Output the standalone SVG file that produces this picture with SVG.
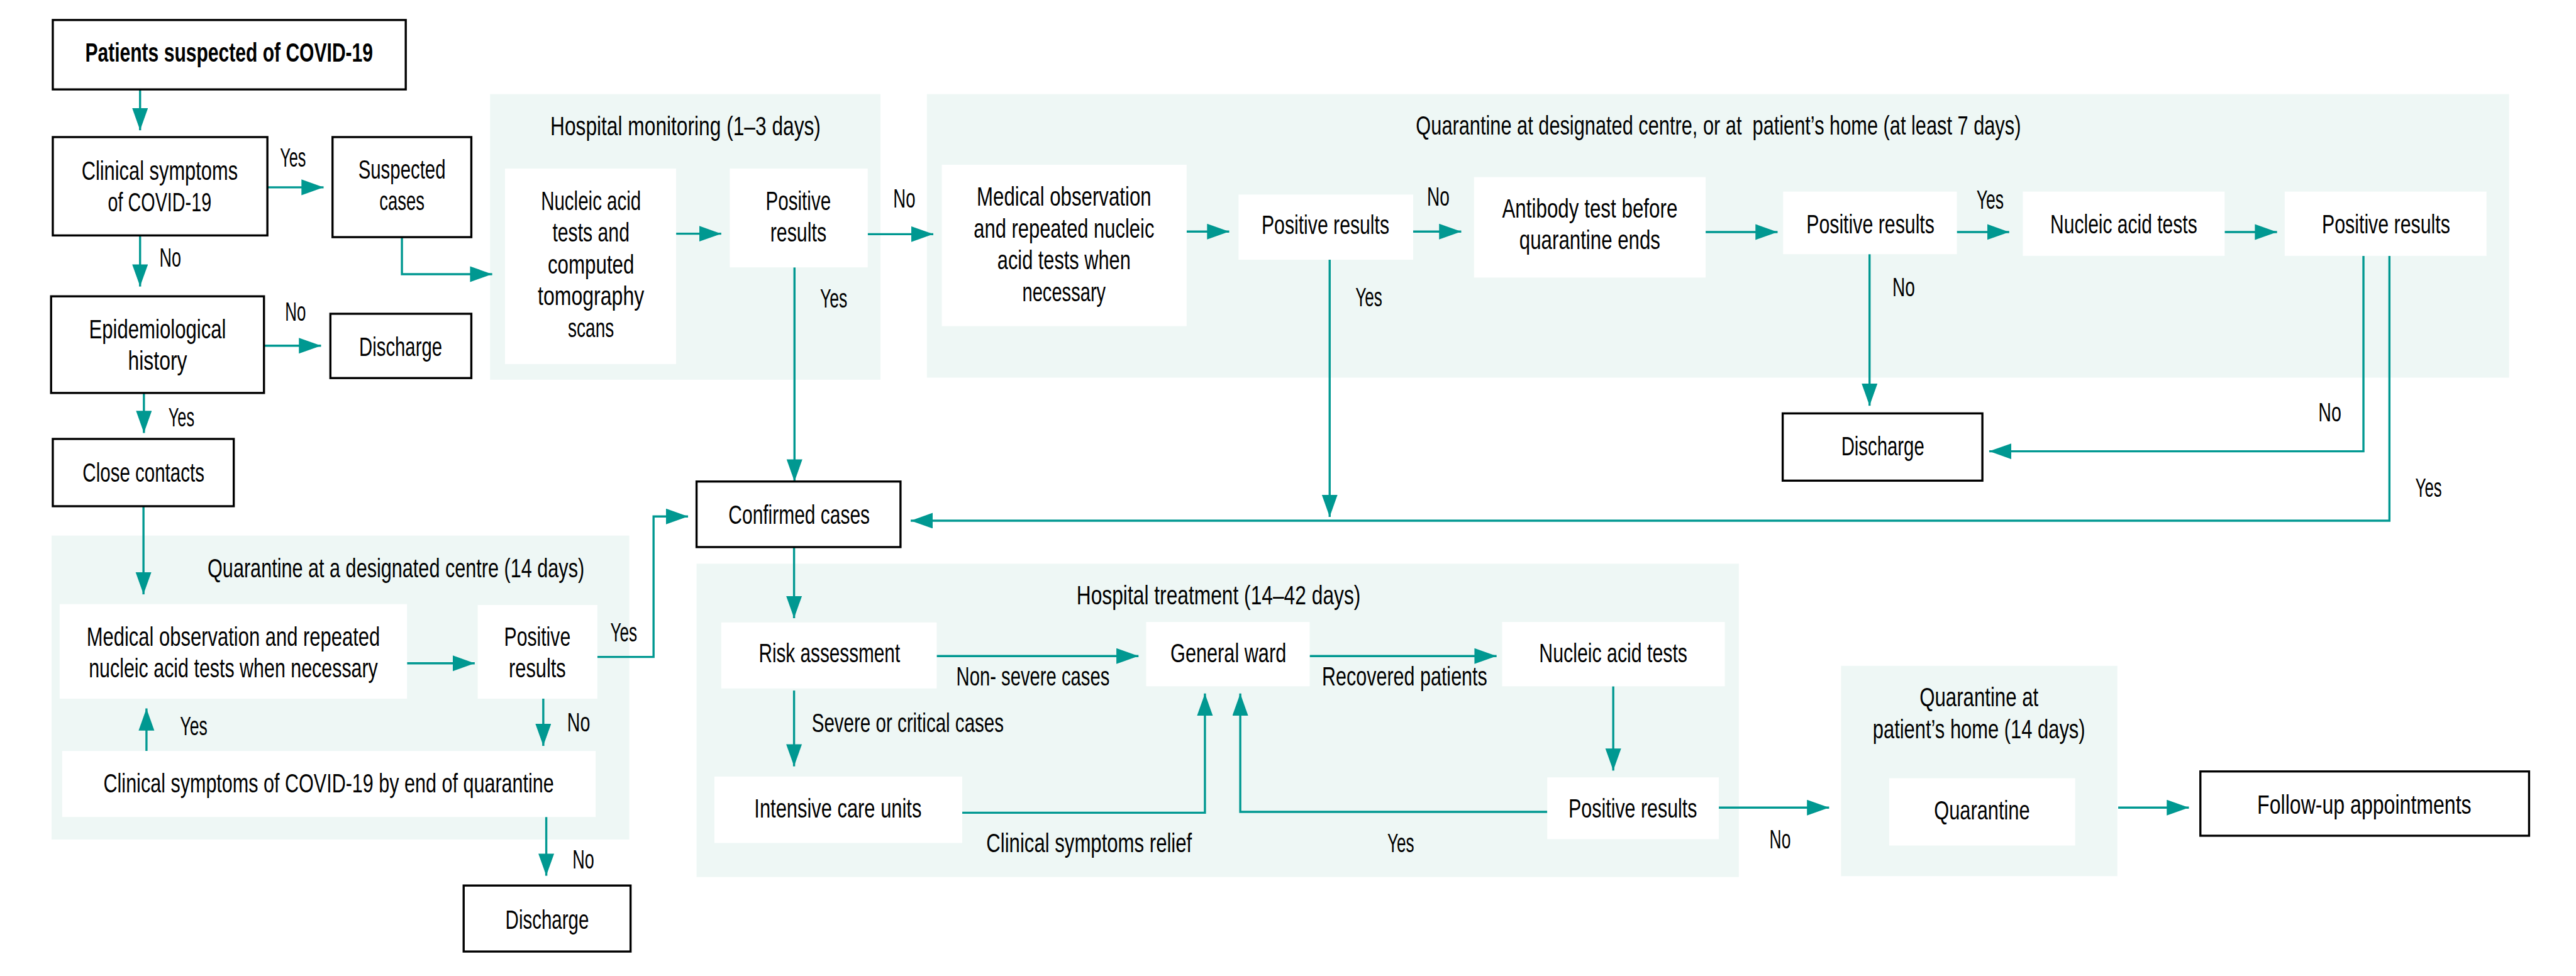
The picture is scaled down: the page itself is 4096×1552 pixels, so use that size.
<svg xmlns="http://www.w3.org/2000/svg" width="4096" height="1552" viewBox="0 0 4096 1552">
<defs>
<style>
.b{fill:#fff;stroke:#000;stroke-width:5}
.w{fill:#fff}
.p{fill:#EEF7F5}
.c{fill:none;stroke:#009891;stroke-width:5;marker-end:url(#a)}
text{font-family:"Liberation Sans Narrow","Liberation Sans",Arial,sans-serif;font-size:64px;fill:#000;text-anchor:middle}
.t{font-weight:bold}
</style>
<marker id="a" markerUnits="userSpaceOnUse" markerWidth="54" markerHeight="38" refX="52" refY="18.5" orient="auto">
<path d="M0,0 L52,18.5 L0,37 z" fill="#009891"/>
</marker>
</defs>
<rect width="4096" height="1552" fill="#fff"/>
<g transform="scale(0.677)">
<g id="panels">
<rect id="panel-hospital-monitoring" class="p" x="1151" y="221" width="917" height="671"/>
<rect id="panel-quarantine-7" class="p" x="2177" y="221" width="3716" height="666"/>
<rect id="panel-quarantine-centre" class="p" x="121" y="1258" width="1357" height="714"/>
<rect id="panel-hospital-treatment" class="p" x="1636" y="1324" width="2448" height="736"/>
<rect id="panel-quarantine-home" class="p" x="4324" y="1564" width="649" height="494"/>
<text x="1610" y="317" textLength="635" lengthAdjust="spacingAndGlyphs">Hospital monitoring (1–3 days)</text>
<text x="4036" y="316" textLength="1421" lengthAdjust="spacingAndGlyphs" xml:space="preserve">Quarantine at designated centre, or at  patient’s home (at least 7 days)</text>
<text x="930" y="1356" textLength="885" lengthAdjust="spacingAndGlyphs">Quarantine at a designated centre (14 days)</text>
<text x="2862" y="1419" textLength="667" lengthAdjust="spacingAndGlyphs">Hospital treatment (14–42 days)</text>
<text x="4648" y="1659" textLength="279" lengthAdjust="spacingAndGlyphs">Quarantine at</text>
<text x="4648" y="1734" textLength="499" lengthAdjust="spacingAndGlyphs">patient’s home (14 days)</text>
</g>
<g id="connectors">
<path class="c" d="M329,210 V306"/>
<path class="c" d="M628,440 H760"/>
<path class="c" d="M329,553 V673"/>
<path class="c" d="M620,812 H754"/>
<path class="c" d="M338,923 V1017"/>
<path class="c" d="M944,557 V644 H1156"/>
<path class="c" d="M1588,549 H1694"/>
<path class="c" d="M2038,550 H2192"/>
<path class="c" d="M1866,628 V1131"/>
<path class="c" d="M2787,544 H2887"/>
<path class="c" d="M3319,544 H3432"/>
<path class="c" d="M3123,610 V1214"/>
<path class="c" d="M4006,545 H4175"/>
<path class="c" d="M4596,545 H4719"/>
<path class="c" d="M5225,545 H5348"/>
<path class="c" d="M4391,597 V953"/>
<path class="c" d="M5551,601 V1060 H4672"/>
<path class="c" d="M5612,601 V1223 H2139"/>
<path class="c" d="M337,1189 V1396"/>
<path class="c" d="M956,1558 H1115"/>
<path class="c" d="M1403,1543 H1535 V1213 H1616"/>
<path class="c" d="M1276,1641 V1752"/>
<path class="c" d="M344,1764 V1664"/>
<path class="c" d="M1283,1919 V2057"/>
<path class="c" d="M1865,1285 V1452"/>
<path class="c" d="M2200,1541 H2674"/>
<path class="c" d="M3076,1541 H3515"/>
<path class="c" d="M3789,1612 V1810"/>
<path class="c" d="M1865,1622 V1800"/>
<path class="c" d="M2260,1909 H2830 V1629"/>
<path class="c" d="M3634,1907 H2913 V1629"/>
<path class="c" d="M4037,1897 H4296"/>
<path class="c" d="M4975,1897 H5141"/>
</g>
<g id="labels">
<text x="688" y="391" textLength="61" lengthAdjust="spacingAndGlyphs">Yes</text>
<text x="400" y="627" textLength="51" lengthAdjust="spacingAndGlyphs">No</text>
<text x="694" y="754" textLength="49" lengthAdjust="spacingAndGlyphs">No</text>
<text x="426" y="1001" textLength="61" lengthAdjust="spacingAndGlyphs">Yes</text>
<text x="2124" y="488" textLength="52" lengthAdjust="spacingAndGlyphs">No</text>
<text x="1958" y="722" textLength="64" lengthAdjust="spacingAndGlyphs">Yes</text>
<text x="3378" y="483" textLength="53" lengthAdjust="spacingAndGlyphs">No</text>
<text x="3215" y="720" textLength="63" lengthAdjust="spacingAndGlyphs">Yes</text>
<text x="4674" y="490" textLength="64" lengthAdjust="spacingAndGlyphs">Yes</text>
<text x="4471" y="696" textLength="53" lengthAdjust="spacingAndGlyphs">No</text>
<text x="5472" y="990" textLength="54" lengthAdjust="spacingAndGlyphs">No</text>
<text x="5704" y="1167" textLength="62" lengthAdjust="spacingAndGlyphs">Yes</text>
<text x="1465" y="1506" textLength="63" lengthAdjust="spacingAndGlyphs">Yes</text>
<text x="1359" y="1718" textLength="54" lengthAdjust="spacingAndGlyphs">No</text>
<text x="455" y="1727" textLength="64" lengthAdjust="spacingAndGlyphs">Yes</text>
<text x="1370" y="2040" textLength="51" lengthAdjust="spacingAndGlyphs">No</text>
<text x="2426" y="1610" textLength="360" lengthAdjust="spacingAndGlyphs">Non- severe cases</text>
<text x="3299" y="1610" textLength="388" lengthAdjust="spacingAndGlyphs">Recovered patients</text>
<text x="2132" y="1719" textLength="451" lengthAdjust="spacingAndGlyphs">Severe or critical cases</text>
<text x="2558" y="2002" textLength="483" lengthAdjust="spacingAndGlyphs">Clinical symptoms relief</text>
<text x="3290" y="2002" textLength="63" lengthAdjust="spacingAndGlyphs">Yes</text>
<text x="4181" y="1992" textLength="50" lengthAdjust="spacingAndGlyphs">No</text>
</g>
<g id="n-patients"><rect class="b" x="124" y="47" width="829" height="163"/><text class="t" x="538" y="145" textLength="676" lengthAdjust="spacingAndGlyphs">Patients suspected of COVID-19</text></g>
<g id="n-clinical"><rect class="b" x="124" y="322" width="504" height="231"/><text x="375" y="422" textLength="367" lengthAdjust="spacingAndGlyphs">Clinical symptoms</text><text x="375" y="496" textLength="243" lengthAdjust="spacingAndGlyphs">of COVID-19</text></g>
<g id="n-suspected"><rect class="b" x="781" y="322" width="326" height="235"/><text x="944" y="420" textLength="205" lengthAdjust="spacingAndGlyphs">Suspected</text><text x="944" y="494" textLength="106" lengthAdjust="spacingAndGlyphs">cases</text></g>
<g id="n-epidem"><rect class="b" x="120" y="696" width="500" height="227"/><text x="370" y="794" textLength="322" lengthAdjust="spacingAndGlyphs">Epidemiological</text><text x="370" y="868" textLength="139" lengthAdjust="spacingAndGlyphs">history</text></g>
<g id="n-discharge1"><rect class="b" x="776" y="737" width="331" height="151"/><text x="941" y="836" textLength="195" lengthAdjust="spacingAndGlyphs">Discharge</text></g>
<g id="n-nucleic-ct"><rect class="w" x="1186" y="396" width="402" height="459"/><text x="1388" y="493" textLength="235" lengthAdjust="spacingAndGlyphs">Nucleic acid</text><text x="1388" y="567" textLength="181" lengthAdjust="spacingAndGlyphs">tests and</text><text x="1388" y="642" textLength="203" lengthAdjust="spacingAndGlyphs">computed</text><text x="1388" y="717" textLength="250" lengthAdjust="spacingAndGlyphs">tomography</text><text x="1388" y="792" textLength="108" lengthAdjust="spacingAndGlyphs">scans</text></g>
<g id="n-positive-hm"><rect class="w" x="1714" y="396" width="324" height="232"/><text x="1875" y="493" textLength="153" lengthAdjust="spacingAndGlyphs">Positive</text><text x="1875" y="567" textLength="132" lengthAdjust="spacingAndGlyphs">results</text></g>
<g id="n-medobs-q7"><rect class="w" x="2212" y="387" width="575" height="379"/><text x="2499" y="483" textLength="410" lengthAdjust="spacingAndGlyphs">Medical observation</text><text x="2499" y="558" textLength="424" lengthAdjust="spacingAndGlyphs">and repeated nucleic</text><text x="2499" y="632" textLength="313" lengthAdjust="spacingAndGlyphs">acid tests when</text><text x="2499" y="707" textLength="196" lengthAdjust="spacingAndGlyphs">necessary</text></g>
<g id="n-positive-q7a"><rect class="w" x="2909" y="457" width="410" height="153"/><text x="3113" y="550" textLength="300" lengthAdjust="spacingAndGlyphs">Positive results</text></g>
<g id="n-antibody"><rect class="w" x="3462" y="416" width="544" height="236"/><text x="3734" y="511" textLength="412" lengthAdjust="spacingAndGlyphs">Antibody test before</text><text x="3734" y="585" textLength="331" lengthAdjust="spacingAndGlyphs">quarantine ends</text></g>
<g id="n-positive-q7b"><rect class="w" x="4188" y="450" width="408" height="147"/><text x="4393" y="548" textLength="301" lengthAdjust="spacingAndGlyphs">Positive results</text></g>
<g id="n-nucleic-q7"><rect class="w" x="4751" y="450" width="474" height="151"/><text x="4988" y="548" textLength="345" lengthAdjust="spacingAndGlyphs">Nucleic acid tests</text></g>
<g id="n-positive-q7c"><rect class="w" x="5366" y="450" width="474" height="151"/><text x="5604" y="548" textLength="301" lengthAdjust="spacingAndGlyphs">Positive results</text></g>
<g id="n-discharge2"><rect class="b" x="4187" y="971" width="469" height="158"/><text x="4422" y="1069" textLength="195" lengthAdjust="spacingAndGlyphs">Discharge</text></g>
<g id="n-close"><rect class="b" x="124" y="1031" width="425" height="158"/><text x="337" y="1131" textLength="286" lengthAdjust="spacingAndGlyphs">Close contacts</text></g>
<g id="n-medobs-qc"><rect class="w" x="140" y="1419" width="816" height="222"/><text x="548" y="1517" textLength="689" lengthAdjust="spacingAndGlyphs">Medical observation and repeated</text><text x="548" y="1591" textLength="679" lengthAdjust="spacingAndGlyphs">nucleic acid tests when necessary</text></g>
<g id="n-positive-qc"><rect class="w" x="1122" y="1421" width="281" height="220"/><text x="1262" y="1517" textLength="156" lengthAdjust="spacingAndGlyphs">Positive</text><text x="1262" y="1591" textLength="134" lengthAdjust="spacingAndGlyphs">results</text></g>
<g id="n-clinical-end"><rect class="w" x="146" y="1764" width="1253" height="155"/><text x="772" y="1861" textLength="1058" lengthAdjust="spacingAndGlyphs">Clinical symptoms of COVID-19 by end of quarantine</text></g>
<g id="n-discharge3"><rect class="b" x="1089" y="2080" width="392" height="155"/><text x="1285" y="2181" textLength="196" lengthAdjust="spacingAndGlyphs">Discharge</text></g>
<g id="n-confirmed"><rect class="b" x="1636" y="1131" width="479" height="154"/><text x="1877" y="1231" textLength="332" lengthAdjust="spacingAndGlyphs">Confirmed cases</text></g>
<g id="n-risk"><rect class="w" x="1694" y="1462" width="506" height="155"/><text x="1948" y="1556" textLength="332" lengthAdjust="spacingAndGlyphs">Risk assessment</text></g>
<g id="n-general"><rect class="w" x="2692" y="1461" width="384" height="151"/><text x="2885" y="1555" textLength="272" lengthAdjust="spacingAndGlyphs">General ward</text></g>
<g id="n-nucleic-ht"><rect class="w" x="3528" y="1461" width="523" height="151"/><text x="3789" y="1555" textLength="348" lengthAdjust="spacingAndGlyphs">Nucleic acid tests</text></g>
<g id="n-icu"><rect class="w" x="1678" y="1824" width="582" height="156"/><text x="1968" y="1920" textLength="393" lengthAdjust="spacingAndGlyphs">Intensive care units</text></g>
<g id="n-positive-ht"><rect class="w" x="3634" y="1826" width="403" height="145"/><text x="3835" y="1920" textLength="302" lengthAdjust="spacingAndGlyphs">Positive results</text></g>
<g id="n-quarantine"><rect class="w" x="4437" y="1828" width="437" height="158"/><text x="4655" y="1924" textLength="225" lengthAdjust="spacingAndGlyphs">Quarantine</text></g>
<g id="n-followup"><rect class="b" x="5168" y="1812" width="772" height="151"/><text x="5553" y="1911" textLength="503" lengthAdjust="spacingAndGlyphs">Follow-up appointments</text></g>
</g>
</svg>
